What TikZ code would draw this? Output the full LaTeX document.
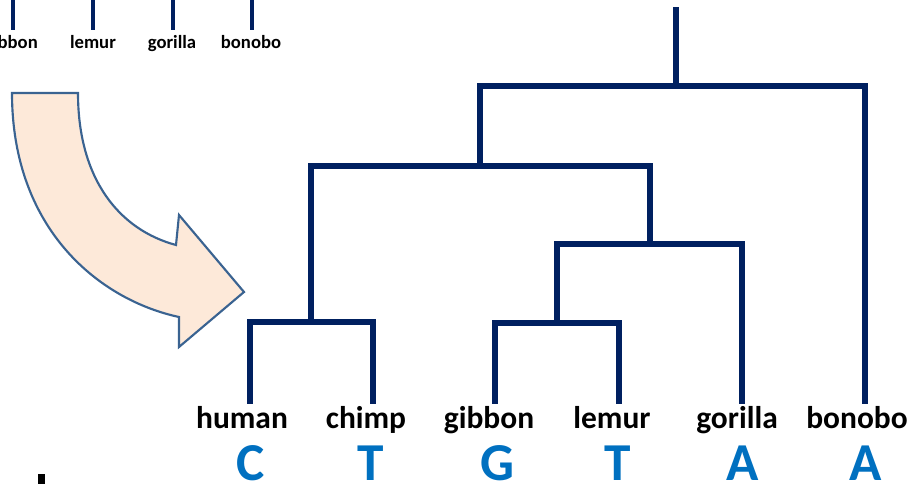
\documentclass[tikz,border=0pt]{standalone}
\usepackage{fontspec}
\setmainfont{Carlito}
\definecolor{navy}{HTML}{002060}
\definecolor{basecol}{HTML}{0070C0}
\definecolor{peach}{HTML}{FDE9D9}
\definecolor{arrowedge}{HTML}{3A6391}
\begin{document}
\begin{tikzpicture}[x=0.75pt,y=-0.75pt,
  branch/.style={draw=navy,line width=4.4pt,line join=miter,line cap=rect},
  twig/.style={draw=navy,line width=2.6pt},
  leaf/.style={anchor=base,inner sep=0pt,font=\fontsize{23.6}{28}\bfseries\selectfont},
  smallleaf/.style={anchor=base,inner sep=0pt,font=\fontsize{14}{17}\bfseries\selectfont},
  basename/.style={anchor=base,inner sep=0pt,text=basecol,font=\fontsize{40}{48}\bfseries\selectfont}]
\clip (0,0) rectangle (909,484);
\useasboundingbox (0,0) rectangle (909,484);

% small tree fragment in the upper left corner
\node[smallleaf] (sgibbon) at (11,49) {gibbon};
\node[smallleaf] (slemur) at (93,49) {lemur};
\node[smallleaf] (sgorilla) at (172,49) {gorilla};
\node[smallleaf] (sbonobo) at (251,49) {bonobo};
\foreach \n/\x in {sgibbon/13,slemur/93,sgorilla/173,sbonobo/252}{
  \coordinate (\n-top) at (\x,-2);
  \coordinate (\n-end) at (\x,30);
  \draw[twig] (\n-top) -- (\n-end);
}

% curved block arrow
\draw[fill=peach,draw=arrowedge,line width=1.6pt,line join=miter]
  (12,93) -- (78,93)
  .. controls (78,180) and (120,230) .. (176,245)
  -- (179,215) -- (244,292) -- (179,347) -- (179,317)
  .. controls (100,300) and (12,230) .. (12,93) -- cycle;

% leaf labels
\node[leaf] (human)   at (242,428) {human};
\node[leaf] (chimp)   at (366,428) {chimp};
\node[leaf] (gibbon)  at (489,428) {gibbon};
\node[leaf] (lemur)   at (612,428) {lemur};
\node[leaf] (gorilla) at (737,428) {gorilla};
\node[leaf] (bonobo)  at (857,428) {bonobo};

% bases under each leaf
\node[basename] (bC)  at (251,480) {C};
\node[basename] (bT1) at (371,480) {T};
\node[basename] (bG)  at (497,480) {G};
\node[basename] (bT2) at (618,480) {T};
\node[basename] (bA1) at (743,480) {A};
\node[basename] (bA2) at (866,480) {A};

% branch tips
\coordinate (tHuman)   at (250,401);
\coordinate (tChimp)   at (373,401);
\coordinate (tGibbon)  at (495,401);
\coordinate (tLemur)   at (619,401);
\coordinate (tGorilla) at (742,401);
\coordinate (tBonobo)  at (865,401);

% internal joints
\coordinate (jHC)   at (311,322);
\coordinate (jGL)   at (557,323);
\coordinate (jGLG)  at (650,244);
\coordinate (jLeft) at (480,166);
\coordinate (jRoot) at (676,86);
\coordinate (root)  at (676,10);

\draw[branch] (tHuman) |- (jHC) -| (tChimp);
\draw[branch] (tGibbon) |- (jGL) -| (tLemur);
\draw[branch] (jGL) |- (jGLG) -| (tGorilla);
\draw[branch] (jHC) |- (jLeft) -| (jGLG);
\draw[branch] (jLeft) |- (jRoot) -| (tBonobo);
\draw[branch] (jRoot) -- (root);

% stray mark at the lower left edge
\fill (38,474) rectangle (45,486);
\end{tikzpicture}
\end{document}
